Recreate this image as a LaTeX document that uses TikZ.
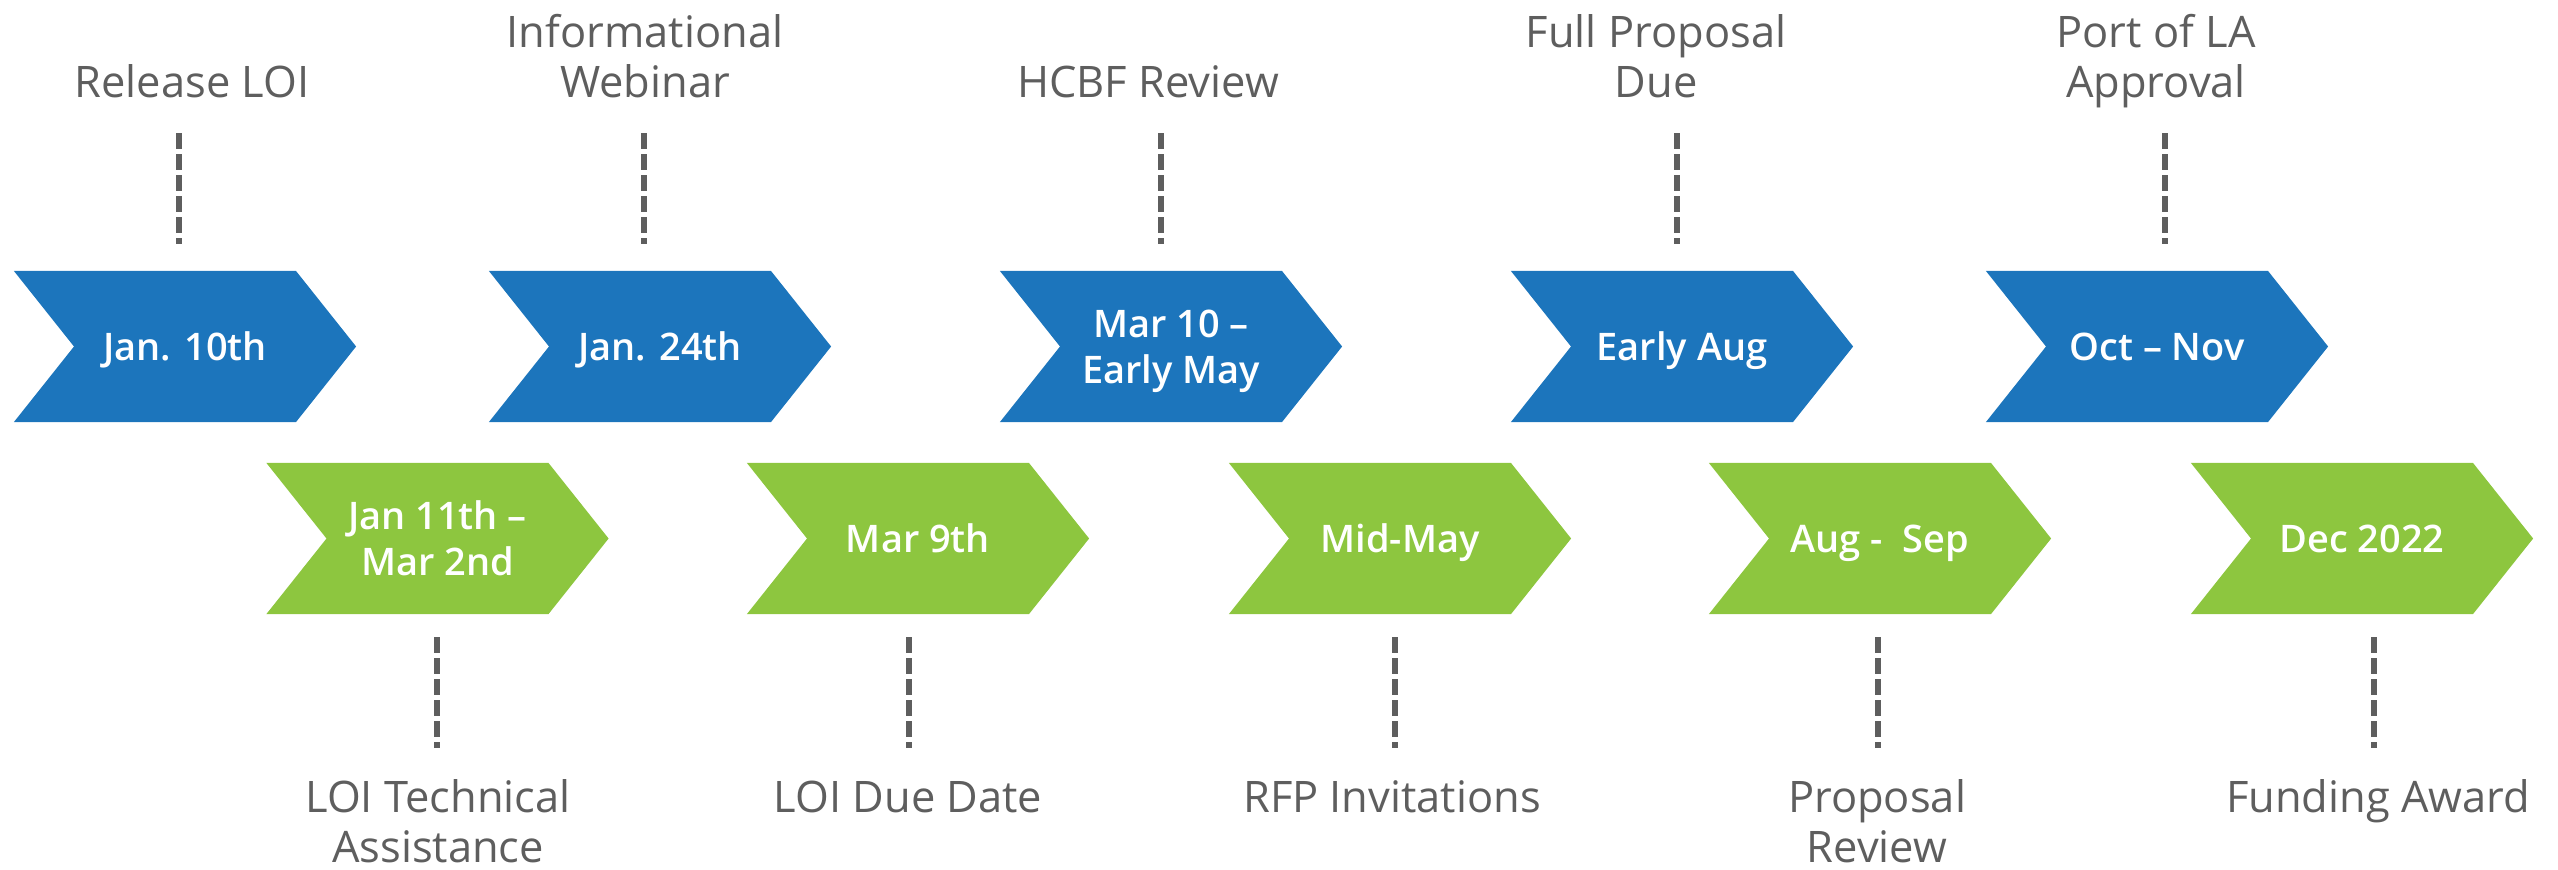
\documentclass[tikz,border=0pt]{standalone}
\usepackage{fontspec}
\setmainfont{Open Sans}
\IfFontExistsTF{Open Sans SemiBold}{\newfontfamily\datefont{Open Sans SemiBold}}{%
  \IfFontExistsTF{Open Sans Semibold}{\newfontfamily\datefont{Open Sans Semibold}}{\newcommand\datefont{\bfseries}}}
\usepackage{tikz}
\usetikzlibrary{positioning}
\usetikzlibrary{shapes.symbols}
\definecolor{chevblue}{HTML}{1C75BC}
\definecolor{chevgreen}{HTML}{8DC63F}
\definecolor{milegray}{HTML}{5E5E5E}
\tikzstyle{chevron} = [signal, signal from=west, signal to=east, signal pointer angle=103, minimum width=3.42cm, minimum height=1.51cm, inner sep=0pt, text depth=0pt, text=white, align=center, font=\fontsize{10.8}{13.1}\selectfont\datefont]
\tikzstyle{bluechev} = [chevron, fill=chevblue]
\tikzstyle{greenchev} = [chevron, fill=chevgreen]
\tikzstyle{milestone} = [text=milegray, align=center, inner sep=0pt, anchor=base, font=\fontsize{12.35}{14.2}\selectfont]
\tikzstyle{leader} = [draw=milegray, line width=1.7pt, dash pattern=on 0.16cm off 0.05cm]

\begin{document}
\begin{tikzpicture}[x=0.01cm,y=-0.01cm]%1 unit = 1px
    \useasboundingbox (0,0) rectangle (2558,869);

    \node [bluechev] (jan10) at (185,346.5) {Jan. 10th};
    \node [bluechev] (jan24) at (660,346.5) {Jan. 24th};
    \node [bluechev] (mar10) at (1171,346.5) {Mar 10 –\\Early May};
    \node [bluechev] (earlyaug) at (1682,346.5) {Early Aug};
    \node [bluechev] (octnov) at (2157,346.5) {Oct – Nov};

    \node [greenchev] (jan11) at (437.5,538.5) {Jan 11th –\\Mar 2nd};
    \node [greenchev] (mar9) at (918,538.5) {Mar 9th};
    \node [greenchev] (midmay) at (1400,538.5) {Mid-May};
    \node [greenchev] (augsep) at (1880,538.5) {Aug -\ \ Sep};
    \node [greenchev] (dec22) at (2362,538.5) {Dec 2022};

    \node [milestone] (release) at (192,97) {Release LOI};
    \node [milestone] (webinar) at (645,97) {Informational\\Webinar};
    \node [milestone] (hcbf) at (1148,97) {HCBF Review};
    \node [milestone] (fullprop) at (1656,97) {Full Proposal\\Due};
    \node [milestone] (portla) at (2156,97) {Port of LA\\Approval};

    \node [milestone] (techassist) at (438,862) {LOI Technical\\Assistance};
    \node [milestone] (loidue) at (908,812) {LOI Due Date};
    \node [milestone] (rfp) at (1392,812) {RFP Invitations};
    \node [milestone] (review) at (1877,862) {Proposal\\Review};
    \node [milestone] (award) at (2378,812) {Funding Award};

    \coordinate (r1) at (179,133);  \coordinate (r1e) at (179,244);
    \coordinate (r2) at (644,133);  \coordinate (r2e) at (644,244);
    \coordinate (r3) at (1161,133); \coordinate (r3e) at (1161,244);
    \coordinate (r4) at (1677,133); \coordinate (r4e) at (1677,244);
    \coordinate (r5) at (2165,133); \coordinate (r5e) at (2165,244);
    \coordinate (s1) at (437,637);  \coordinate (s1e) at (437,748);
    \coordinate (s2) at (909,637);  \coordinate (s2e) at (909,748);
    \coordinate (s3) at (1395,637); \coordinate (s3e) at (1395,748);
    \coordinate (s4) at (1878,637); \coordinate (s4e) at (1878,748);
    \coordinate (s5) at (2374,637); \coordinate (s5e) at (2374,748);

    \draw [leader] (r1) -- (r1e);
    \draw [leader] (r2) -- (r2e);
    \draw [leader] (r3) -- (r3e);
    \draw [leader] (r4) -- (r4e);
    \draw [leader] (r5) -- (r5e);
    \draw [leader] (s1) -- (s1e);
    \draw [leader] (s2) -- (s2e);
    \draw [leader] (s3) -- (s3e);
    \draw [leader] (s4) -- (s4e);
    \draw [leader] (s5) -- (s5e);
\end{tikzpicture}
\end{document}
